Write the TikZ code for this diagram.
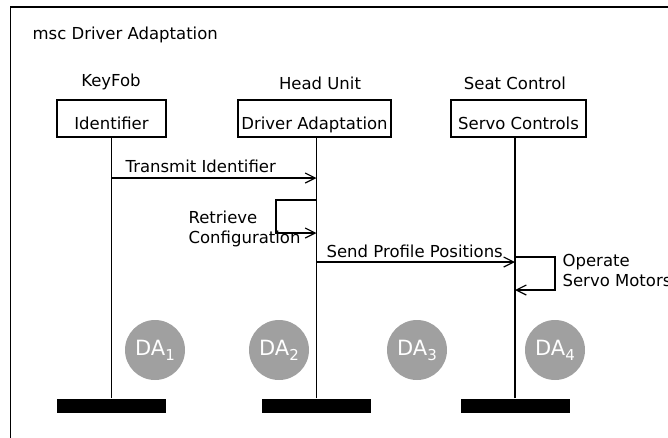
\documentclass[tikz,border=0pt]{standalone}
\usepackage{fontspec}
\setmainfont{DejaVu Sans}
\usetikzlibrary{arrows.meta}
\definecolor{dagray}{RGB}{160,160,160}
\begin{document}
\begin{tikzpicture}[x=1pt,y=-1pt,
  line width=1.2pt,
  every node/.style={font=\fontsize{16.5}{20}\selectfont},
  inst/.style={draw, line width=1.3pt, minimum height=37pt, inner sep=0pt, text height=21pt, text depth=0pt},
  endbar/.style={fill=black, minimum width=109pt, minimum height=14pt, inner sep=0pt},
  msg/.style={-{Straight Barb[length=10pt,width=10pt]}},
  lbl/.style={inner sep=0pt, anchor=base west},
  hdr/.style={inner sep=0pt, anchor=base},
  dacirc/.style={circle, fill=dagray, minimum size=60pt, inner sep=0pt, text=white, font=\fontsize{21}{21}\selectfont}
]
\useasboundingbox (0,0) rectangle (668,437);
\clip (0,0) rectangle (668,437);
\draw[line width=1.4pt] (10.5,7) rectangle (700,470);

\node[lbl] (title) at (32,39) {msc Driver Adaptation};

\node[hdr] (hkf) at (111,86) {KeyFob};
\node[hdr] (hhu) at (320,89) {Head Unit};
\node[hdr] (hsc) at (515,89) {Seat Control};

\node[inst, minimum width=109pt] (id) at (111.5,118.5) {Identifier};
\node[inst, minimum width=153pt] (da) at (314.5,118.5) {Driver Adaptation};
\node[inst, minimum width=135pt] (sv) at (518.5,118.5) {Servo Controls};

\node[endbar] (b1) at (111.7,406) {};
\node[endbar] (b2) at (316.5,406) {};
\node[endbar] (b3) at (515,406) {};

\draw (b1.north) -- (b1.north |- id.south);
\draw (b2.north) -- (b2.north |- da.south);
\draw (b3.north) -- (b3.north |- sv.south);

\coordinate (yT) at (0,178);
\coordinate (yR1) at (0,200);
\coordinate (yR2) at (0,233);
\coordinate (xR) at (276,0);
\coordinate (yS) at (0,262);
\coordinate (yO1) at (0,257);
\coordinate (yO2) at (0,290);
\coordinate (xO) at (555,0);

\draw[msg] (b1.north |- yT) -- (b2.north |- yT);
\node[lbl] (ltr) at (125,172) {Transmit Identifier};

\draw[msg] (b2.north |- yR1) -- (xR |- yR1) -- (xR |- yR2) -- (b2.north |- yR2);
\node[lbl, align=left, anchor=north west] (lrc) at (188,210) {Retrieve\\Configuration};

\draw[msg] (b2.north |- yS) -- (b3.north |- yS);
\node[lbl] (lsp) at (326,257) {Send Profile Positions};

\draw[msg] (b3.north |- yO1) -- (xO |- yO1) -- (xO |- yO2) -- (b3.north |- yO2);
\node[lbl, align=left, anchor=north west] (lop) at (562,254) {Operate\\Servo Motors};

\node[dacirc] (da1) at (155,350) {DA\raisebox{-5pt}{\fontsize{15}{15}\selectfont 1}};
\node[dacirc] (da2) at (279,350) {DA\raisebox{-5pt}{\fontsize{15}{15}\selectfont 2}};
\node[dacirc] (da3) at (417,350) {DA\raisebox{-5pt}{\fontsize{15}{15}\selectfont 3}};
\node[dacirc] (da4) at (555,350) {DA\raisebox{-5pt}{\fontsize{15}{15}\selectfont 4}};
\end{tikzpicture}
\end{document}
